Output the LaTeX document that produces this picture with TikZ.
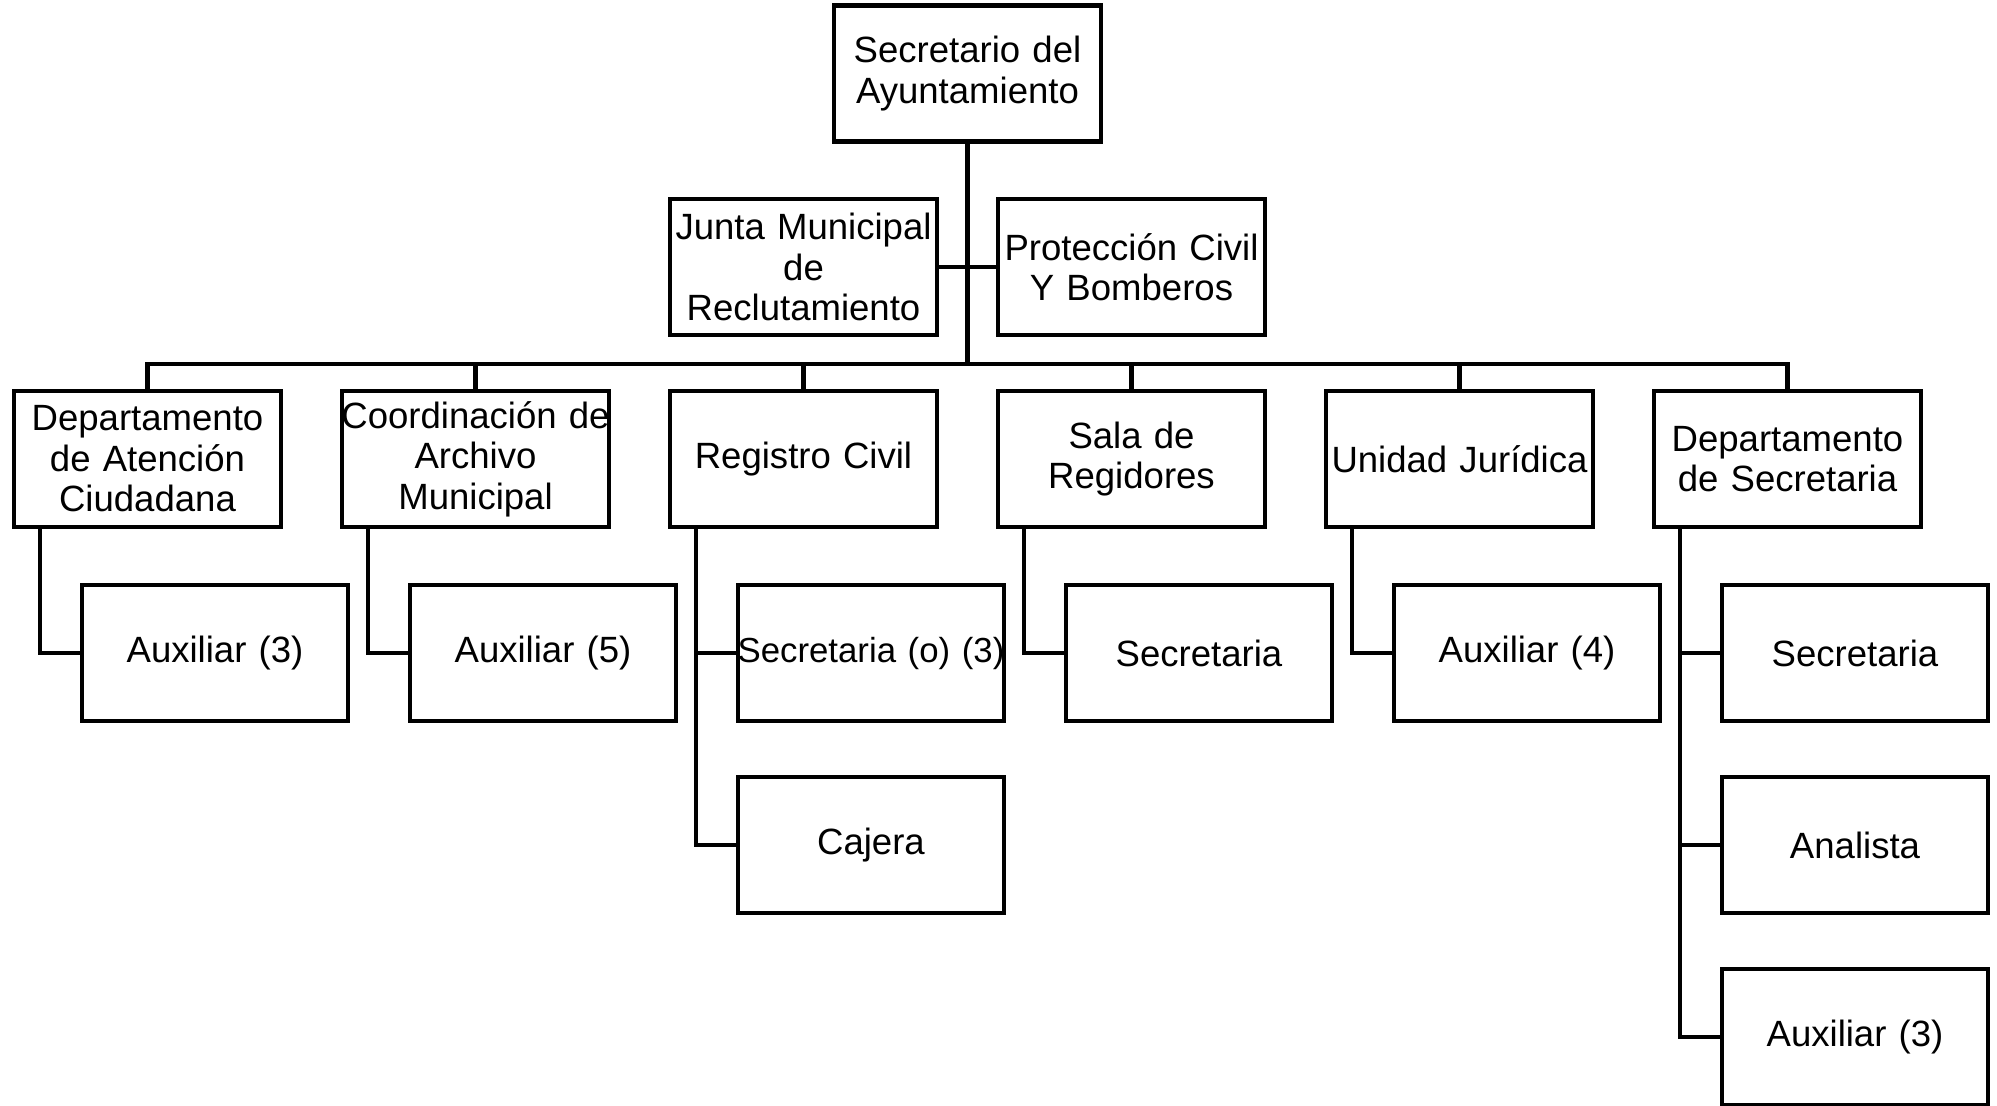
\documentclass[tikz,border=0pt]{standalone}
\usepackage{fontspec}
\setmainfont{Liberation Sans}
\usetikzlibrary{positioning}
\begin{document}
\begin{tikzpicture}[
    box/.style = {draw, line width=1.15pt, fill=white, text width=2.63cm, minimum height=1.36cm,
                  inner sep=0.5pt, align=center, font=\fontsize{10.4}{11.5}\selectfont},
    link/.style = {line width=1.15pt},
    on grid]
        \useasboundingbox (0,0) rectangle (19.97,-11.05);
        % niveles
        \node[box] (top) at (9.675,-0.735) {Secretario del\\Ayuntamiento};
        \node[box] (dep) at (1.475,-4.59) {Departamento\\de Atención\\Ciudadana};
        \node[box] (arch) [right=3.28cm of dep] {\makebox[\linewidth]{Coordinación de}\\Archivo\\Municipal};
        \node[box] (reg) [right=3.28cm of arch] {Registro Civil};
        \node[box] (sala) [right=3.28cm of reg] {Sala de\\Regidores};
        \node[box] (jur) [right=3.28cm of sala] {Unidad Jurídica};
        \node[box] (sec) [right=3.28cm of jur] {Departamento\\de Secretaria};
        \node[box] (junta) [above=1.92cm of reg] {Junta Municipal\\de\\Reclutamiento};
        \node[box] (prot) [above=1.92cm of sala] {Protección Civil\\Y Bomberos};
        \coordinate[above=0.95cm of reg] (bus);
        % subordinados
        \node[box] (aux1) [below=1.94cm of dep, xshift=0.675cm] {Auxiliar (3)};
        \node[box] (aux2) [below=1.94cm of arch, xshift=0.675cm] {Auxiliar (5)};
        \node[box, font=\fontsize{9.9}{11.5}\selectfont] (sec1) [below=1.94cm of reg, xshift=0.675cm]
            {\makebox[\linewidth]{Secretaria (o) (3)}};
        \node[box] (caj) [below=1.92cm of sec1] {Cajera};
        \node[box] (sec2) [below=1.94cm of sala, xshift=0.675cm] {Secretaria};
        \node[box] (aux4) [below=1.94cm of jur, xshift=0.675cm] {Auxiliar (4)};
        \node[box] (sec3) [below=1.94cm of sec, xshift=0.675cm] {Secretaria};
        \node[box] (ana) [below=1.92cm of sec3] {Analista};
        \node[box] (aux3) [below=1.92cm of ana] {Auxiliar (3)};
        %
        \draw[link] (top.south) -- (top |- bus);
        \draw[link] (junta.east) -- (prot.west);
        \draw[link] (dep.north) -- (dep |- bus) -- (sec |- bus) -- (sec.north);
        \foreach \n in {arch, reg, sala, jur}
            \draw[link] (\n.north) -- (\n |- bus);
        \draw[link] ([xshift=0.28cm]dep.south west) |- (aux1.west);
        \draw[link] ([xshift=0.28cm]arch.south west) |- (aux2.west);
        \draw[link] ([xshift=0.28cm]reg.south west) |- (caj.west);
        \draw[link] ([xshift=0.28cm]reg.south west) |- (sec1.west);
        \draw[link] ([xshift=0.28cm]sala.south west) |- (sec2.west);
        \draw[link] ([xshift=0.28cm]jur.south west) |- (aux4.west);
        \draw[link] ([xshift=0.28cm]sec.south west) |- (aux3.west);
        \draw[link] ([xshift=0.28cm]sec.south west) |- (sec3.west);
        \draw[link] ([xshift=0.28cm]sec.south west) |- (ana.west);
      \end{tikzpicture}
\end{document}
